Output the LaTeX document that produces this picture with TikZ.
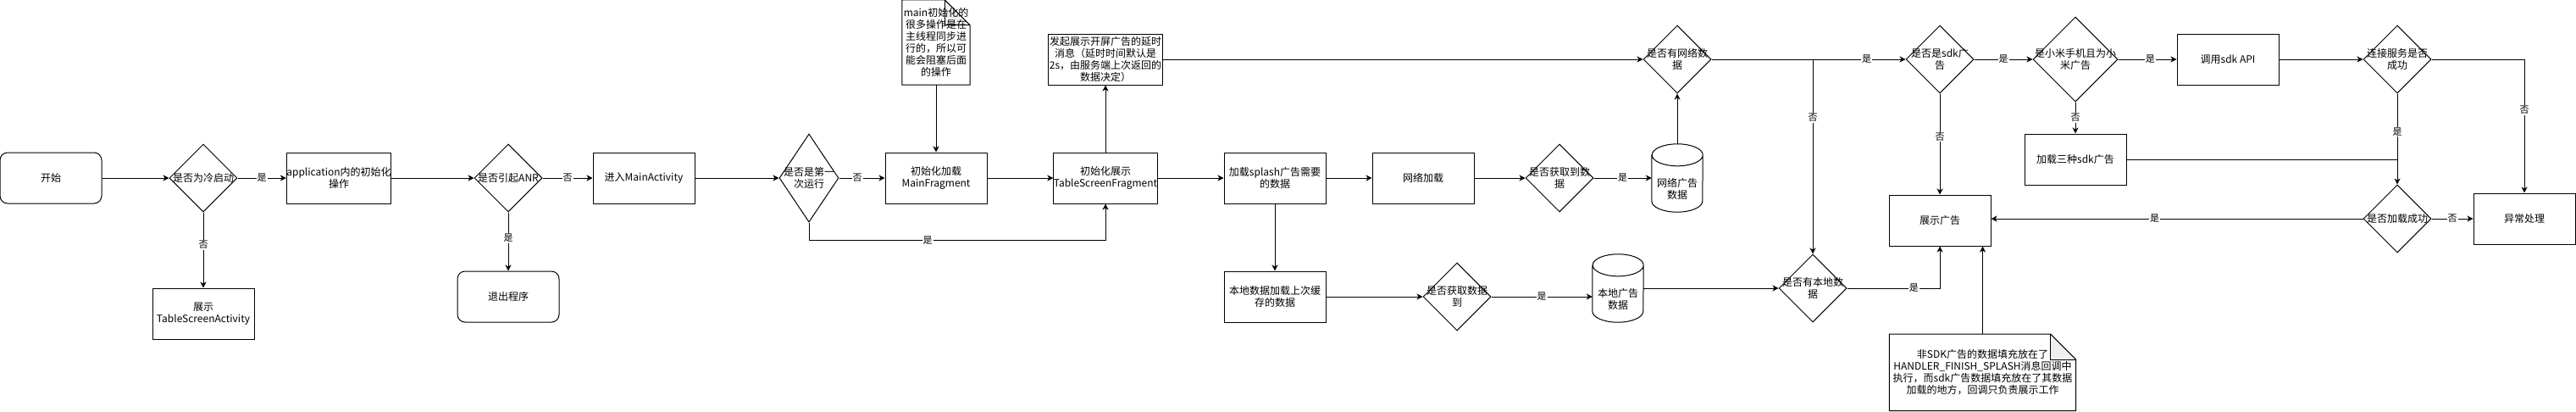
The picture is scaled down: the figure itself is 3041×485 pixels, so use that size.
\documentclass[tikz,border=0pt]{standalone}
\usepackage{fontspec}
\setmainfont{Noto Sans CJK SC}
\usetikzlibrary{shapes.geometric,arrows.meta}

\tikzset{
  proc/.style={rectangle, draw, line width=1pt, minimum width=120pt, minimum height=60pt, align=center, inner xsep=0pt},
  term/.style={proc, rounded corners=9pt},
  decision/.style={diamond, draw, line width=1pt, minimum width=80pt, minimum height=80pt, inner sep=0pt},
  store/.style={rectangle, minimum width=60pt, minimum height=80pt, inner sep=0pt},
  note/.style={rectangle, align=center, inner sep=0pt,
    path picture={\fill[gray!12] ([xshift=-30pt]path picture bounding box.north east) -- ([yshift=-30pt]path picture bounding box.north east) -- ([xshift=-30pt,yshift=-30pt]path picture bounding box.north east) -- cycle;}},
  arr/.style={line width=1pt, -{Stealth[length=7pt,width=7pt,inset=2pt]}},
  line/.style={line width=1pt},
  lbl/.style={fill=white, inner sep=1pt, font=\fontsize{11}{13}\selectfont},
}

\begin{document}
\begin{tikzpicture}[x=1pt, y=-1pt, font=\fontsize{12}{14}\selectfont]
  \useasboundingbox (0,0) rectangle (3041,485);

  % start up
  \node[term] (start) at (60,210) {开始};
  \node[decision, label={center:是否为冷启动}] (d1) at (240,210) {};
  \node[proc] (app) at (400,210) {application内的初始化\\操作};
  \node[proc] (tsa) at (240,370) {展示\\TableScreenActivity};
  \node[decision, label={center:是否引起ANR}] (d2) at (600,210) {};
  \node[term] (exit) at (600,350) {退出程序};
  \node[proc] (mainact) at (760,210) {进入MainActivity};
  \node[decision, minimum width=70pt, minimum height=104pt, label={[align=center]center:是否是第一\\次运行}] (d3) at (955,210) {};

  % fragments
  \node[note, minimum width=80pt, minimum height=100pt] (note1) at (1105,50) {main初始化的\\很多操作是在\\主线程同步进\\行的，所以可\\能会阻塞后面\\的操作};
  \node[proc] (mf) at (1105,210) {初始化加载\\MainFragment};
  \node[proc] (tsf) at (1305,210) {初始化展示\\TableScreenFragment};
  \node[proc, minimum width=135pt, inner ysep=0pt] (delay) at (1305,70) {发起展示开屏广告的延时\\消息（延时时间默认是\\2s，由服务端上次返回的\\数据决定）};

  % ad data
  \node[proc] (splash) at (1505,210) {加载splash广告需要\\的数据};
  \node[proc] (net) at (1680,210) {网络加载};
  \node[decision, label={[align=center]center:是否获取到数\\据}] (d4) at (1841,210) {};
  \node[store, label={[align=center,yshift=-13pt]center:网络广告\\数据}] (cyl1) at (1980,210) {};
  \node[decision, label={[align=center]center:是否有网络数\\据}] (d5) at (1980,70) {};
  \node[proc] (local) at (1505,350) {本地数据加载上次缓\\存的数据};
  \node[decision, label={[align=center]center:是否获取数据\\到}] (d6) at (1720,350) {};
  \node[store, label={[align=center,yshift=-13pt]center:本地广告\\数据}] (cyl2) at (1910,340) {};
  \node[decision, label={[align=center]center:是否有本地数\\据}] (d7) at (2140,340) {};

  % show ad
  \node[decision, label={[align=center]center:是否是sdk广\\告}] (d8) at (2290,70) {};
  \node[proc] (show) at (2290,260) {展示广告};
  \node[note, minimum width=220pt, minimum height=90pt] (note2) at (2340.5,439.3) {非SDK广告的数据填充放在了\\HANDLER\_FINISH\_SPLASH消息回调中\\执行，而sdk广告数据填充放在了其数据\\加载的地方，回调只负责展示工作};
  \node[decision, minimum width=100pt, minimum height=100pt, label={[align=center]center:是小米手机且为小\\米广告}] (d9) at (2450,70) {};
  \node[proc] (load3) at (2450,188) {加载三种sdk广告};
  \node[proc] (api) at (2630,70) {调用sdk API};
  \node[decision, label={[align=center]center:连接服务是否\\成功}] (d10) at (2830,70) {};
  \node[decision, label={center:是否加载成功}] (d11) at (2830,258) {};
  \node[proc] (err) at (2980,258) {异常处理};

  % cylinders and notes
  \draw[line] ([yshift=-13pt]cyl1.north west) -- ([yshift=13pt]cyl1.south west) arc[start angle=180,end angle=360,x radius=30pt,y radius=13pt] -- ([yshift=-13pt]cyl1.north east) arc[start angle=0,end angle=360,x radius=30pt,y radius=13pt];
  \draw[line] ([yshift=-13pt]cyl2.north west) -- ([yshift=13pt]cyl2.south west) arc[start angle=180,end angle=360,x radius=30pt,y radius=13pt] -- ([yshift=-13pt]cyl2.north east) arc[start angle=0,end angle=360,x radius=30pt,y radius=13pt];
  \draw[line] (note1.south west) -- (note1.north west) -- ([xshift=-30pt]note1.north east) -- ([yshift=-30pt]note1.north east) -- (note1.south east) -- cycle;
  \draw[line] ([xshift=-30pt]note1.north east) -- ([xshift=-30pt,yshift=-30pt]note1.north east) -- ([yshift=-30pt]note1.north east);
  \draw[line] (note2.south west) -- (note2.north west) -- ([xshift=-30pt]note2.north east) -- ([yshift=-30pt]note2.north east) -- (note2.south east) -- cycle;
  \draw[line] ([xshift=-30pt]note2.north east) -- ([xshift=-30pt,yshift=-30pt]note2.north east) -- ([yshift=-30pt]note2.north east);

  % connectors
  \draw[arr] (start) -- (d1);
  \draw[arr] (d1) -- node[lbl] {是} (app);
  \draw[arr] (d1) -- node[lbl, pos=0.43] {否} (tsa);
  \draw[arr] (app) -- (d2);
  \draw[arr] (d2) -- node[lbl, pos=0.44] {是} (exit);
  \draw[arr] (d2) -- node[lbl] {否} (mainact);
  \draw[arr] (mainact) -- (d3);
  \draw[arr] (d3) -- node[lbl, pos=0.4] {否} (mf);
  \draw[arr] (d3.south) -- ++(0,21) -| node[lbl, pos=0.2] {是} (tsf.south);
  \draw[arr] (note1) -- (mf);
  \draw[arr] (mf) -- (tsf);
  \draw[arr] (tsf) -- (delay);
  \draw[arr] (tsf) -- (splash);
  \draw[arr] (delay) -- (d5);
  \draw[arr] (splash) -- (net);
  \draw[arr] (splash) -- (local);
  \draw[arr] (net) -- (d4);
  \draw[arr] (d4) -- node[lbl] {是} (cyl1);
  \draw[arr] (cyl1) -- (d5);
  \draw[arr] (d5) -- node[lbl, pos=0.8] {是} (d8);
  \draw[arr] (d5.east) -| node[lbl, pos=0.65] {否} (d7.north);
  \draw[arr] (local) -- (d6);
  \draw[arr] (d6.east) -- node[lbl] {是} (d6.east -| cyl2.west);
  \draw[arr] (cyl2) -- (d7);
  \draw[arr] (d7.east) -| node[lbl, pos=0.36] {是} (show.south);
  \draw[arr] (d8) -- node[lbl, pos=0.43] {否} (show);
  \draw[arr] (d8) -- node[lbl] {是} (d9);
  \draw[arr] (d9) -- node[lbl] {否} (load3);
  \draw[arr] (d9) -- node[lbl, pos=0.55] {是} (api);
  \draw[arr] (api) -- (d10);
  \draw[arr] (d10) -- node[lbl, pos=0.42] {是} (d11);
  \draw[line] (load3.east) -- (load3.east -| d10.south);
  \draw[arr] (d10.east) -| node[lbl, pos=0.69] {否} (err.north);
  \draw[arr] (d11.west) -- node[lbl, pos=0.56] {是} (d11.west -| show.east);
  \draw[arr] (d11) -- node[lbl] {否} (err);
  \draw[arr] (note2.north) -- (note2.north |- show.south);
\end{tikzpicture}
\end{document}
